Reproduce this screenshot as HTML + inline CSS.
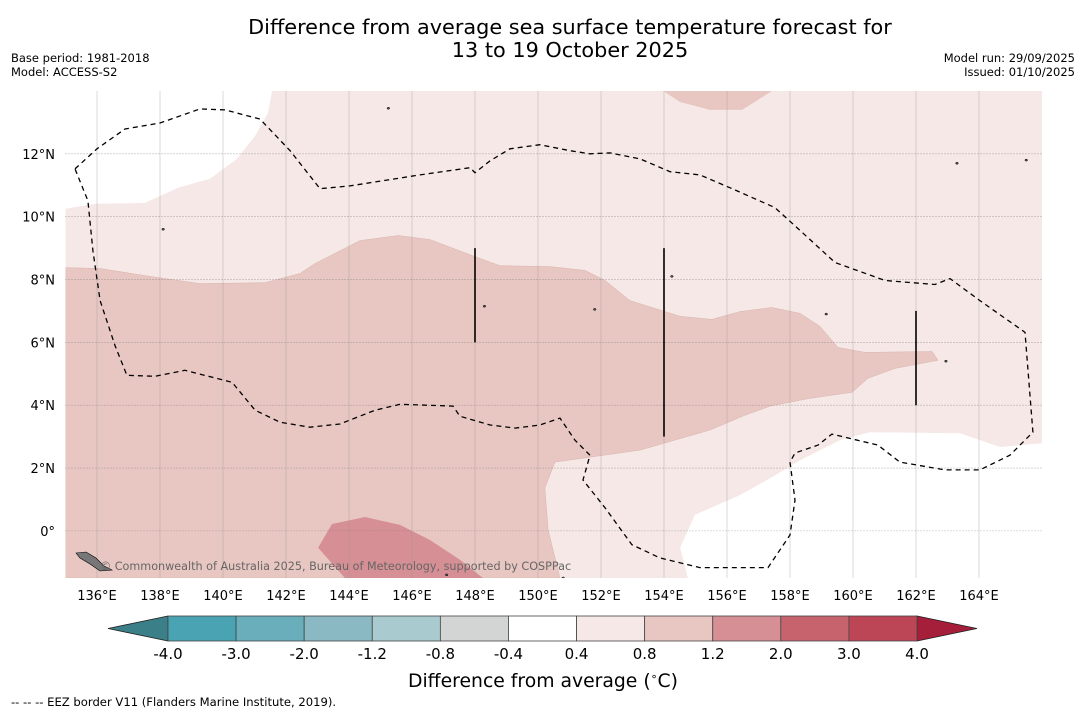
<!DOCTYPE html>
<html><head><meta charset="utf-8"><style>
body{margin:0;background:#fff;width:1085px;height:713px;overflow:hidden;font-family:"DejaVu Sans","Liberation Sans",sans-serif}
</style></head><body>
<svg width="1085" height="713" xmlns="http://www.w3.org/2000/svg" font-family="DejaVu Sans, Liberation Sans, sans-serif">
<text x="570" y="34" text-anchor="middle" font-size="20.8">Difference from average sea surface temperature forecast for</text>
<text x="570" y="57" text-anchor="middle" font-size="20.8">13 to 19 October 2025</text>
<text x="11" y="62" font-size="11.5">Base period: 1981-2018</text>
<text x="11" y="76" font-size="11.5">Model: ACCESS-S2</text>
<text x="1075" y="62" font-size="11.5" text-anchor="end">Model run: 29/09/2025</text>
<text x="1075" y="76" font-size="11.5" text-anchor="end">Issued: 01/10/2025</text>
<defs><clipPath id="mc"><rect x="65.5" y="91" width="976.5" height="487"/></clipPath></defs>
<g id="map" clip-path="url(#mc)"></g>
<g id="axes"></g>
<g id="cbar"></g>
<text x="543" y="687" text-anchor="middle" font-size="18.8">Difference from average (<tspan font-size="11" dy="-7">∘</tspan><tspan dy="7">C)</tspan></text>
<text x="11" y="706" font-size="11.6">--  --  -- EEZ border V11 (Flanders Marine Institute, 2019).</text>
</svg>
<script>
const lonMin=135,lonMax=166,latMin=-1.5,latMax=14;
const lonTicks=[136,138,140,142,144,146,148,150,152,154,156,158,160,162,164];
const latTicks=[0,2,4,6,8,10,12];
const cbLevels=["-4.0","-3.0","-2.0","-1.2","-0.8","-0.4","0.4","0.8","1.2","2.0","3.0","4.0"];
const cbColors=["#4aa3b2","#6aaebb","#8ab9c4","#a9cacf","#d3d5d5","#ffffff","#f5e8e6","#e8c7c2","#d68f94","#c7636d","#bd4656"];
const whiteNW=[[135,10.25],[135.94,10.41],[137.52,10.44],[138.57,10.92],[139.59,11.21],[140.44,11.84],[141.02,12.57],[141.43,13.3],[141.56,14],[135,14]];
const whiteSE=[[166,2.79],[164.67,2.67],[163.4,3.11],[160.54,3.14],[159.59,2.89],[158.32,2.25],[157.37,1.68],[156.41,1.14],[154.98,0.51],[154.51,-0.54],[154.76,-1.5],[166,-1.5]];
const medMain=[[135,8.38],[136.1,8.35],[137.68,8.1],[139.27,7.87],[141.33,7.9],[142.44,8.19],[142.92,8.51],[144.35,9.24],[145.56,9.4],[146.57,9.27],[148,8.73],[148.79,8.44],[150.38,8.41],[151.49,8.29],[152.13,7.97],[152.92,7.33],[154.51,6.83],[155.52,6.73],[156.41,6.98],[157.43,7.11],[158.32,6.92],[158.95,6.51],[159.52,5.84],[160.38,5.68],[162.51,5.71],[162.7,5.43],[161.33,5.17],[160.48,4.86],[159.97,4.41],[158.64,4.22],[157.37,3.97],[156.57,3.68],[155.46,3.21],[153.24,2.57],[150.54,2.19],[150.22,1.37],[150.32,0.03],[150.7,-1.5],[135,-1.5]];
const medTop=[[153.97,14],[154.51,13.65],[155.46,13.4],[156.48,13.4],[157.43,14]];
const darkPatch=[[143.02,-0.54],[143.46,0.22],[144.51,0.44],[145.62,0.19],[146.57,-0.29],[147.52,-0.92],[148.25,-1.5],[143.87,-1.5]];
const eez=[[135.3,11.52],[136,12.16],[136.89,12.79],[138,12.98],[139.27,13.43],[140.06,13.4],[141.17,13.11],[142.13,12.1],[143.08,10.89],[144.03,10.98],[146.25,11.33],[147.84,11.56],[148,11.4],[148.48,11.78],[149.11,12.16],[150.06,12.29],[151.02,12.1],[151.65,12],[152.29,12.03],[153.24,11.84],[154.19,11.43],[155.14,11.33],[156.1,10.92],[157.52,10.29],[158.32,9.56],[159.43,8.54],[161.02,7.97],[162.6,7.84],[163.08,8.03],[164.03,7.33],[165.46,6.32],[165.71,3.14],[164.98,2.41],[164.03,1.94],[162.92,1.94],[161.49,2.19],[160.79,2.73],[159.33,3.08],[158.89,2.73],[158.16,2.48],[158,2.19],[158.16,0.98],[158,-0.13],[157.3,-1.17],[155.14,-1.17],[153.87,-0.86],[152.98,-0.44],[152.13,0.73],[151.43,1.62],[151.65,2.41],[151.17,2.89],[150.7,3.59],[150.06,3.37],[149.27,3.27],[148.48,3.37],[147.52,3.65],[147.3,3.97],[145.62,4.03],[144.83,3.84],[143.71,3.4],[142.76,3.3],[141.81,3.46],[141.02,3.84],[140.29,4.73],[138.79,5.11],[137.84,4.92],[136.95,4.95],[136.57,5.9],[136.1,7.33],[135.87,8.92],[135.71,10.51],[135.3,11.52]];
const boundaryLines=[[148,6,9],[154,3,9],[162,4,7]];
const islands=[[145.25,13.45],[148.3,7.15],[154.25,8.1],[159.15,6.9],[162.95,5.4],[138.1,9.6],[151.8,7.05],[147.1,-1.4],[150.8,-1.5],[163.3,11.7],[165.5,11.8]];
const NS="http://www.w3.org/2000/svg";
const X=l=>65.5+(l-lonMin)/(lonMax-lonMin)*976.5;
const Y=l=>578-(l-latMin)/(latMax-latMin)*487;
function mk(tag,attrs,parent){const e=document.createElementNS(NS,tag);for(const k in attrs)e.setAttribute(k,attrs[k]);parent.appendChild(e);return e;}
const map=document.getElementById('map'),axes=document.getElementById('axes'),cb=document.getElementById('cbar');
const pts=a=>a.map(p=>X(p[0]).toFixed(1)+','+Y(p[1]).toFixed(1)).join(' ');
let e=mk('rect',{x:65.5,y:91,width:976.5,height:487,fill:cbColors[6]},map);

e=mk('polygon',{points:pts(whiteNW),fill:'#fff'},map);

e=mk('polygon',{points:pts(whiteSE),fill:'#fff'},map);

e=mk('polygon',{points:pts(medMain),fill:cbColors[7],stroke:'#d9b3ad','stroke-width':0.5},map);

e=mk('polygon',{points:pts(medTop),fill:cbColors[7]},map);

e=mk('polygon',{points:pts(darkPatch),fill:cbColors[8]},map);

lonTicks.forEach(l=>{const g=mk('line',{x1:X(l),x2:X(l),y1:91,y2:578,stroke:'#999','stroke-width':0.5,'stroke-opacity':0.7},map);

const t=mk('text',{x:X(l),y:600,'text-anchor':'middle','font-size':13},axes);t.textContent=l+'°E';
});
latTicks.forEach(l=>{const g=mk('line',{x1:65.5,x2:1042,y1:Y(l),y2:Y(l),stroke:'#777','stroke-width':0.6,'stroke-dasharray':'1,2'},map);

const t=mk('text',{x:55,y:Y(l)+5,'text-anchor':'end','font-size':13},axes);t.textContent=l===0?'0°':l+'°N';
});
e=mk('polyline',{points:pts(eez),fill:'none',stroke:'#000','stroke-width':1.3,'stroke-dasharray':'5,4'},map);

boundaryLines.forEach(b=>{const l=mk('line',{x1:X(b[0]),x2:X(b[0]),y1:Y(b[1]),y2:Y(b[2]),stroke:'#000','stroke-width':1.6},map);
});
islands.forEach(p=>{const c=mk('ellipse',{cx:X(p[0]),cy:Y(p[1]),rx:1.3,ry:1,fill:'#555',stroke:'#000','stroke-width':0.5},map);
});
e=mk('polygon',{points:'76,553 86,552 96,558 104,566 112,570 100,571 90,564 80,558',fill:'#777',stroke:'#000','stroke-width':0.6},map);

e=mk('text',{x:100,y:570,'font-size':11.2,fill:'#666'},map);e.textContent='© Commonwealth of Australia 2025, Bureau of Meteorology, supported by COSPPac';

const cx0=168,cx1=917,cy0=616,cy1=641,n=cbColors.length,w=(cx1-cx0)/n;
e=mk('polygon',{points:`108,628.5 ${cx0},${cy0} ${cx0},${cy1}`,fill:'#3b7f88',stroke:'#222','stroke-width':0.8},cb);

e=mk('polygon',{points:`977,628.5 ${cx1},${cy0} ${cx1},${cy1}`,fill:'#a51e3a',stroke:'#222','stroke-width':0.8},cb);

cbColors.forEach((c,i)=>{const r=mk('rect',{x:cx0+i*w,y:cy0,width:w,height:cy1-cy0,fill:c,stroke:'#444','stroke-width':0.8},cb);
});
cbLevels.forEach((s,i)=>{const t=mk('text',{x:cx0+i*w,y:659,'text-anchor':'middle','font-size':15},cb);t.textContent=s;
});
</script>
</body></html>
